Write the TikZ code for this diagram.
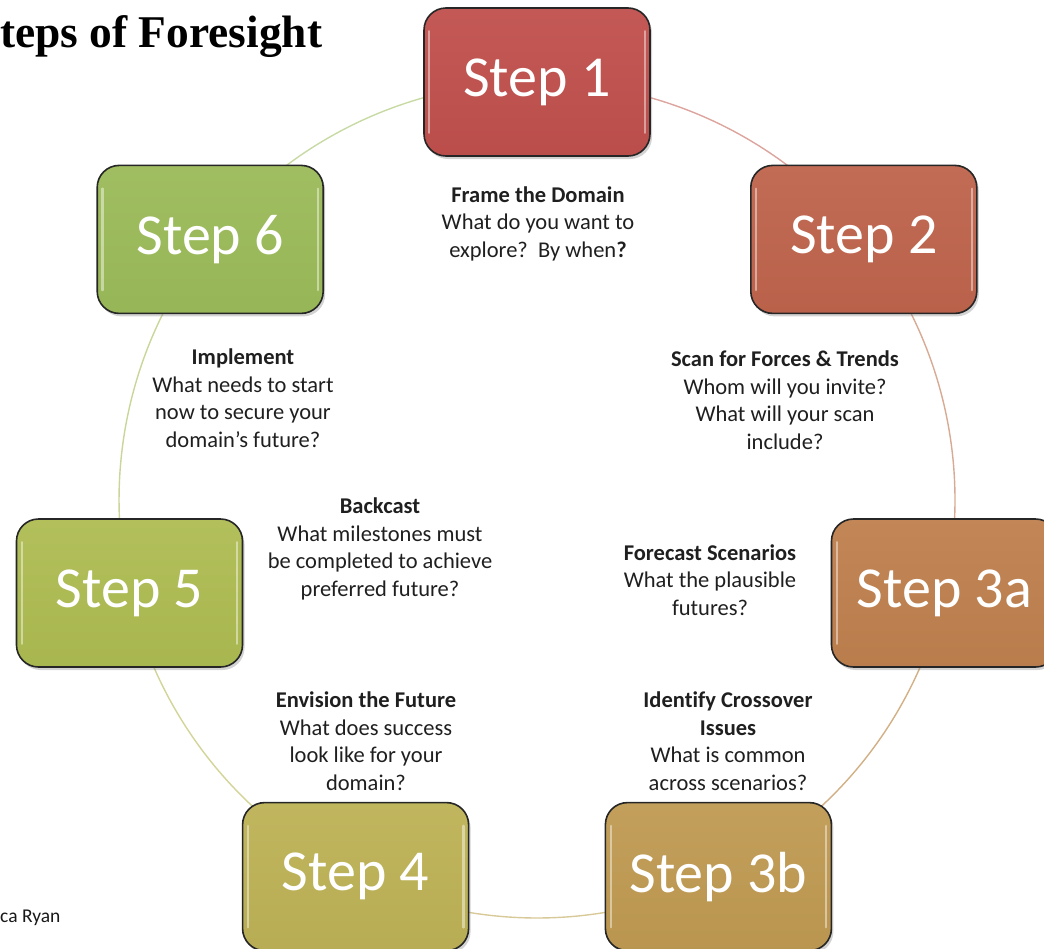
\documentclass[tikz,border=0pt]{standalone}
\usepackage{fontspec}
\setmainfont{Carlito}[Ligatures=NoCommon]
\newfontfamily\titlefont{Liberation Serif}
\usetikzlibrary{shadows,backgrounds}
\definecolor{cA}{RGB}{192,80,77}
\definecolor{cB}{RGB}{191,100,76}
\definecolor{cC}{RGB}{191,128,78}
\definecolor{cD}{RGB}{191,154,82}
\definecolor{cE}{RGB}{189,178,86}
\definecolor{cF}{RGB}{174,188,82}
\definecolor{cG}{RGB}{155,187,89}
\begin{document}
\begin{tikzpicture}[x=1pt,y=-1pt,
  stepbox/.style={rounded corners=22pt, minimum width=226pt, minimum height=148pt,
    draw=black!85, line width=1.6pt, text=white, inner sep=0pt,
    font=\fontsize{58}{62}\selectfont,
    top color=#1!95!white, bottom color=#1!97!black,
    drop shadow={shadow xshift=2pt, shadow yshift=-3pt, opacity=0.35}},
  hl/.style={white, opacity=0.45, line width=2.2pt, line cap=round},
  desc/.style={align=center, font=\fontsize{22.5}{27.5}\selectfont, text=black!88, inner sep=0pt},
  ring/.style={line width=1.4pt}]
\useasboundingbox (0,0) rectangle (1044,948);
\clip (0,0) rectangle (1044,948);

% step boxes
\node[stepbox=cA] (s1)  at (537,82)      {Step 1};
\node[stepbox=cB] (s2)  at (863.8,239.4) {Step 2};
\node[stepbox=cC] (s3a) at (944.5,593)   {Step 3a};
\node[stepbox=cD] (s3b) at (718.4,876.6) {Step 3b};
\node[stepbox=cE] (s4)  at (355.6,876.6) {Step 4};
\node[stepbox=cF] (s5)  at (129.5,593)   {Step 5};
\node[stepbox=cG] (s6)  at (210.2,239.4) {Step 6};

\foreach \n in {s1,s2,s3a,s3b,s4,s5,s6}{
  \draw[hl] ([xshift=6pt,yshift=-24pt]\n.north west) -- ([xshift=6pt,yshift=24pt]\n.south west);
  \draw[hl] ([xshift=-6pt,yshift=-24pt]\n.north east) -- ([xshift=-6pt,yshift=24pt]\n.south east);
}

% ring
\begin{scope}[on background layer]
\draw[ring, cA!50!cB!55!white] (s1.center)  arc[start angle=-90,     end angle=-38.571, radius=418];
\draw[ring, cB!50!cC!60!white] (s2.center)  arc[start angle=-38.571, end angle=12.857,  radius=418];
\draw[ring, cC!50!cD!70!white] (s3a.center) arc[start angle=12.857,  end angle=64.286,  radius=418];
\draw[ring, cD!50!cE!60!white] (s3b.center) arc[start angle=64.286,  end angle=115.714, radius=418];
\draw[ring, cE!50!cF!60!white] (s4.center)  arc[start angle=115.714, end angle=167.143, radius=418];
\draw[ring, cF!50!cG!60!white] (s5.center)  arc[start angle=167.143, end angle=218.571, radius=418];
\draw[ring, cG!55!white]       (s6.center)  arc[start angle=218.571, end angle=270,     radius=418];
\end{scope}

% descriptions
\node[desc] (d1) at (538,223.5) {\textbf{Frame the Domain}\\What do you want to\\explore?~~By when\textbf{?}};
\node[desc] (d2) at (785,400) {\textbf{Scan for Forces \& Trends}\\Whom will you invite?\\What will your scan\\include?};
\node[desc] (d3a) at (710,580) {\textbf{Forecast Scenarios}\\What the plausible\\futures?};
\node[desc] (d3b) at (728,741) {\textbf{Identify Crossover}\\\textbf{Issues}\\What is common\\across scenarios?};
\node[desc] (d4) at (366,741) {\textbf{Envision the Future}\\What does success\\look like for your\\domain?};
\node[desc] (d5) at (380,549) {\textbf{Backcast}\\What milestones must\\be completed to achieve\\preferred future?};
\node[desc] (d6) at (243,398) {\textbf{Implement}\\What needs to start\\now to secure your\\domain’s future?};

% title and credit
\node[anchor=base west, inner sep=0pt, font=\titlefont\bfseries\fontsize{45.4}{50}\selectfont] (title) at (0,47) {teps of Foresight};
\node[anchor=base west, inner sep=0pt, font=\fontsize{19.5}{22}\selectfont, text=black!90] (credit) at (0,922) {ca Ryan};
\end{tikzpicture}
\end{document}
